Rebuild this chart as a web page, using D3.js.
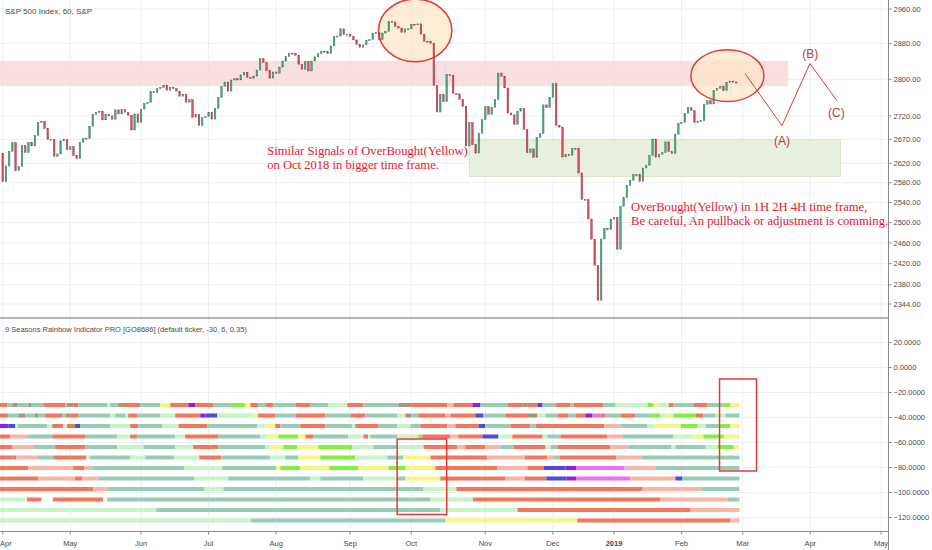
<!DOCTYPE html>
<html>
<head>
<meta charset="utf-8">
<script src="https://cdn.jsdelivr.net/npm/d3@7"></script>
<style>
body { margin: 0; background: #fff; }
svg { display: block; font-family: "Liberation Sans", Arial, sans-serif; }
</style>
</head>
<body>
<svg id="chart" width="932" height="550"></svg>
<script>
// S&P 500 daily closes, 29 Mar 2018 .. 27 Feb 2019 (one per trading day)
var closes = [
  2640.9,
  // Apr
  2581.9, 2614.5, 2644.7, 2662.8, 2604.5, 2613.2, 2656.9, 2642.2, 2664.0, 2656.3, 2677.8,
  2706.4, 2708.6, 2693.1, 2670.1, 2670.3, 2634.6, 2639.4, 2666.9, 2669.9, 2648.1,
  // May
  2654.8, 2635.7, 2629.7, 2663.4, 2672.6, 2671.9, 2697.8, 2723.1, 2727.7, 2730.1, 2711.5,
  2722.5, 2720.1, 2713.0, 2733.0, 2724.4, 2733.3, 2727.8, 2721.3, 2689.9, 2724.0, 2705.3,
  // Jun
  2734.6, 2746.9, 2748.8, 2772.4, 2770.4, 2779.0, 2782.0, 2786.9, 2775.6, 2782.5, 2779.7,
  2773.8, 2762.6, 2767.3, 2749.8, 2754.9, 2717.1, 2723.1, 2699.6, 2716.3, 2718.4,
  // Jul
  2726.7, 2713.2, 2736.6, 2759.8, 2784.2, 2793.8, 2774.0, 2798.3, 2801.3, 2798.4, 2809.6,
  2815.6, 2804.5, 2801.8, 2807.0, 2820.4, 2846.1, 2837.4, 2818.8, 2802.6, 2816.3,
  // Aug
  2813.4, 2827.2, 2840.4, 2850.4, 2858.5, 2857.7, 2853.6, 2833.3, 2821.9, 2840.0, 2818.4,
  2840.7, 2850.1, 2857.1, 2863.0, 2861.8, 2857.0, 2874.7, 2896.7, 2897.5, 2914.0, 2901.1, 2901.5,
  // Sep
  2896.7, 2888.6, 2878.1, 2871.7, 2877.1, 2887.9, 2888.9, 2904.2, 2905.0, 2888.8, 2904.3,
  2908.0, 2930.8, 2929.7, 2919.4, 2915.6, 2906.0, 2914.0, 2914.0,
  // Oct
  2924.6, 2923.4, 2925.5, 2901.6, 2885.6, 2884.4, 2880.3, 2785.7, 2728.4, 2767.1, 2750.8,
  2809.9, 2809.2, 2768.8, 2767.8, 2755.9, 2740.7, 2656.1, 2705.6, 2658.7, 2641.3, 2682.6, 2711.7,
  // Nov
  2740.4, 2723.1, 2738.3, 2755.5, 2813.9, 2806.8, 2781.0, 2726.2, 2722.2, 2701.6, 2730.2,
  2736.3, 2690.7, 2641.9, 2649.9, 2632.6, 2673.5, 2682.2, 2743.8, 2737.8, 2760.2,
  // Dec
  2790.4, 2700.1, 2696.0, 2633.1, 2637.7, 2636.8, 2651.1, 2650.5, 2600.0, 2545.9, 2546.2,
  2507.0, 2467.4, 2416.6, 2351.1, 2467.7, 2488.8, 2485.7, 2506.9,
  // Jan 2019
  2510.0, 2447.9, 2531.9, 2549.7, 2574.4, 2585.0, 2596.6, 2596.3, 2582.6, 2610.3, 2616.1,
  2636.0, 2670.7, 2632.9, 2638.7, 2642.3, 2664.8, 2643.9, 2640.0, 2681.1, 2704.1,
  // Feb 2019
  2706.5, 2724.9, 2737.7, 2731.6, 2706.1, 2707.9, 2709.8, 2744.7, 2753.0, 2745.7, 2775.6,
  2779.8, 2784.7, 2774.9, 2792.7, 2796.1, 2793.9, 2792.4
];

var holidays = ['2018-03-30', '2018-05-28', '2018-07-04', '2018-09-03', '2018-11-22',
  '2018-12-05', '2018-12-25', '2019-01-01', '2019-01-21', '2019-02-18'];

var monthLabels = ['Apr', 'May', 'Jun', 'Jul', 'Aug', 'Sep', 'Oct', 'Nov', 'Dec', '2019', 'Feb', 'Mar', 'Apr', 'May'];
var monthStarts = ['2018-04-02', '2018-05-01', '2018-06-01', '2018-07-02', '2018-08-01', '2018-09-04',
  '2018-10-01', '2018-11-01', '2018-12-03', '2019-01-02', '2019-02-01', '2019-03-01', '2019-04-01', '2019-05-01'];

var priceTicks = [2960, 2880, 2800, 2720, 2670, 2620, 2580, 2540, 2500, 2460, 2420, 2380, 2344];
var indTicks = [20, 0, -20, -40, -60, -80, -100, -120];

// rainbow indicator: one level per row, runs are "colour + end (trading day index)"
var rowLevels = [-30, -38.4, -46.8, -55.2, -63.6, -72, -80.4, -88.8, -97.2, -105.6, -114, -122.4];
var rainbowRows = [
  "R1.4 T3.2 D4.5 T8 D9 T12.6 R19.4 T20 D22 R23.5 T32.5 L33.4 T35.9 D38 R42.7 T49 Y52.1 R57.7 P59.8 R65.4 T70.7 G75.4 Y77 R79.4 T81.6 R84.1 T91 R95.6 T101.2 L107.1 R112.1 T123 D127 R138.2 S140.1 R146 P148.5 T156.9 R161.5 D163 R166.2 B167.8 T171.8 R176.5 T177.4 R186.7 T190.5 L200.4 G202.3 Y203.8 L207 R208.5 T214.7 R219.1 T224.1 G226.2 Y229",
  "R1.7 T5 D7 T10 D11 T13.2 R18.5 T19.7 D21 R23.5 T33.4 L35 T38.1 L39 R41.8 T49 L53.6 R61.4 P63 B66.7 L77.9 Y79.4 R84.7 T91 R100.3 T108.1 R112.7 T122.7 L125.2 D127 T129.2 R137.6 S139.2 R146.9 B149.4 T156.3 R163 D166.2 L168.7 T172.4 R175.9 T178 R181.1 P183.3 M185.8 R187.4 T192 R196.7 T201.4 G204.5 L206 Y207.6 L208.5 G215.4 R217.8 T221.6 L224.7 T229",
  "P1.7 B3.9 L4.8 T13.8 L15.4 R18.8 L20 R22.5 B24.1 T33.4 L39.6 R42.1 T49.6 L54.6 R63.6 T79.1 L81.6 Y84.7 R86.3 T92.5 R100.3 T108.7 L109.6 R116.8 T122.7 L126.7 T129.8 R138.2 S140.7 R147.9 B150 T157.8 R164 T165.6 R187 S192 T200.4 L202.9 Y210.7 G216 L218.5 T222.5 G226.2 Y229",
  "R2.3 S7.6 T15.4 R25.6 T35.6 L39.6 R41.8 T53.6 L56.7 R67 T80.1 L82.2 Y85.7 G91.9 Y94.1 R96.5 T107.4 L112.1 R113.6 L114.3 T122.7 L129.2 G130.4 R139.2 S141.6 R149.1 B154.1 L158.4 R167.8 L169.3 T173.4 R188 S192.6 T208.5 L214.7 Y217.8 G224.1 Y229",
  "R2.9 S9.5 T16.3 R25.6 T35.6 L43.7 T53.6 L59.2 R67 T81.6 L83.2 Y87.2 G91.6 Y98.1 G108.7 L115.2 T122.7 L130.8 R141.3 S143.8 R150 S154.7 T158.7 R168.7 L170.3 T172.4 R188.9 S194.5 T207.9 L209.1 T218.5 L222.2 G227.2 Y229",
  "R2 D3 R4.2 S10.7 T15.7 R26 L27.2 T39.6 L44.3 T53.3 L61.1 R67.9 T83.2 L87.8 T91.9 Y98.7 G109.6 L119.6 T124.5 Y133 R150.7 S162.2 R169.3 S171.2 T173.1 R190.8 S198.6 T229",
  "R7.9 S21.9 R25.3 S27.8 T56.4 L68.2 T85 Y86.3 G92.5 Y101.5 G110.5 Y119.9 G125.2 Y134.5 R153.8 S163.1 R168.1 B174.9 P178.3 M193.3 S202.9 T229",
  "R11 S22.5 R24.7 S29.7 T59.5 L70.1 T95.6 L98.7 T112.1 L122.7 T125.2 Y136 R156.3 S162.2 R169 B175.2 P178.3 M195.1 S209.1 B211.3 T229",
  "R28.1 S32.5 T62.6 L68.6 T130.8 L141 R198.9 S217.2 T229",
  "L7 _7.5 R12 _15.6 R31.2 _32.5 T133 L146.1 R204.5 S225.3 T229",
  "L47.7 T136 L160 R213.8 S229",
  "L77.2 T137.6 Y178.6 R226.2 S229"
];
var rainbowColors = {
  R: '#f4775c', S: '#f9b6a5', T: '#97cdb5', L: '#c6f6c6', Y: '#f8f67c',
  G: '#82f03e', B: '#4b4be0', P: '#8d1ee6', M: '#f06ef0', D: '#a99476'
};

// annotations (trading day index / price)
var pinkZone = { x0: -1, x1: 244.2, lo: 2785, hi: 2841 };
var greenZone = { x0: 145.1, x1: 260.4, lo: 2593, hi: 2669 };
var ellipses = [
  { x0: 116.8, x1: 139.6, hi: 2983, lo: 2839 },
  { x0: 213.9, x1: 236.6, hi: 2866, lo: 2751 }
];
var wavePath = [[230.7, 2813], [242.2, 2699], [250.9, 2835], [259.3, 2753]];
var waveLabels = [['(A)', 242.2, 2659], ['(B)', 251, 2848], ['(C)', 259.1, 2717]];
var notes = [
  { x: 82.2, p: 2637, lines: ['Similar Signals of OverBought(Yellow)', 'on Oct 2018 in bigger time frame.'] },
  { x: 195.3, p: 2522, lines: ['OverBought(Yellow) in 1H 2H 4H time frame,', 'Be careful, An pullback or adjustment is comming.'] }
];
var ratioBoxes = [
  { x0: 122.6, x1: 138, top: -57.2, bottom: -117.6 },
  { x0: 222.8, x1: 234.3, top: -9.2, bottom: -82.8 }
];

var W = 932, H = 550;
var plotRight = 888.5, mainBottom = 318, indBottom = 531.5;

var hol = new Set(holidays);
var startDay = new Date(Date.UTC(2018, 2, 29));
function tradingIndex(s) {
  var target = new Date(s + 'T00:00:00Z');
  var n = -1, d = new Date(startDay.getTime());
  while (d < target) {
    d.setUTCDate(d.getUTCDate() + 1);
    var wd = d.getUTCDay();
    if (wd !== 0 && wd !== 6 && !hol.has(d.toISOString().slice(0, 10))) n++;
  }
  return n;
}

var x = d3.scaleLinear().domain([0, 230]).range([2.7, 742.7]);
var yP = d3.scaleLog().domain([2344, 2960]).range([304, 9]);
var yI = d3.scaleLinear().domain([0, -120]).range([367.5, 517.5]);

var svg = d3.select('#chart');
var defs = svg.append('defs');
defs.append('clipPath').attr('id', 'clipMain').append('rect')
  .attr('x', 0).attr('y', 0).attr('width', plotRight).attr('height', mainBottom);
defs.append('clipPath').attr('id', 'clipInd').append('rect')
  .attr('x', 0).attr('y', mainBottom).attr('width', plotRight).attr('height', indBottom - mainBottom);

var monthX = monthStarts.map(function(s) { return x(tradingIndex(s)); });

// grid
var grid = svg.append('g').attr('stroke', '#eceff4').attr('stroke-width', 1);
grid.selectAll('.vg').data(monthX).enter().append('line')
  .attr('x1', function(d) { return d; }).attr('x2', function(d) { return d; })
  .attr('y1', 0).attr('y2', indBottom);
grid.selectAll('.hg').data(priceTicks).enter().append('line')
  .attr('x1', 0).attr('x2', plotRight)
  .attr('y1', function(d) { return yP(d); }).attr('y2', function(d) { return yP(d); });
grid.selectAll('.ig').data(indTicks).enter().append('line')
  .attr('x1', 0).attr('x2', plotRight)
  .attr('y1', function(d) { return yI(d); }).attr('y2', function(d) { return yI(d); });

// main pane
var main = svg.append('g').attr('clip-path', 'url(#clipMain)');
main.append('rect')
  .attr('x', x(pinkZone.x0)).attr('width', x(pinkZone.x1) - x(pinkZone.x0))
  .attr('y', yP(pinkZone.hi)).attr('height', yP(pinkZone.lo) - yP(pinkZone.hi))
  .attr('fill', '#f7d3d3').attr('fill-opacity', 0.7);
main.append('rect')
  .attr('x', x(greenZone.x0)).attr('width', x(greenZone.x1) - x(greenZone.x0))
  .attr('y', yP(greenZone.hi)).attr('height', yP(greenZone.lo) - yP(greenZone.hi))
  .attr('fill', '#e4efd9').attr('fill-opacity', 0.85)
  .attr('stroke', '#cfe0c0').attr('stroke-width', 0.8);

main.selectAll('.ell-fill').data(ellipses).enter().append('ellipse')
  .attr('cx', function(d) { return (x(d.x0) + x(d.x1)) / 2; })
  .attr('cy', function(d) { return (yP(d.hi) + yP(d.lo)) / 2; })
  .attr('rx', function(d) { return (x(d.x1) - x(d.x0)) / 2; })
  .attr('ry', function(d) { return (yP(d.lo) - yP(d.hi)) / 2; })
  .attr('fill', '#fce6c8').attr('fill-opacity', 0.75);

var candles = closes.slice(1).map(function(c, i) {
  return { i: i, open: closes[i], close: c };
});
main.selectAll('.candle').data(candles).enter().append('rect')
  .attr('x', function(d) { return x(d.i) - 0.8; })
  .attr('width', 1.6)
  .attr('y', function(d) { return yP(Math.max(d.open, d.close)); })
  .attr('height', function(d) { return Math.max(1, Math.abs(yP(d.open) - yP(d.close))); })
  .attr('fill', function(d) { return d.close >= d.open ? '#4daa80' : '#e04b5e'; })
  .attr('stroke', function(d) { return d.close >= d.open ? '#2f6f52' : '#8e2a36'; })
  .attr('stroke-width', 0.4);

main.selectAll('.ell').data(ellipses).enter().append('ellipse')
  .attr('cx', function(d) { return (x(d.x0) + x(d.x1)) / 2; })
  .attr('cy', function(d) { return (yP(d.hi) + yP(d.lo)) / 2; })
  .attr('rx', function(d) { return (x(d.x1) - x(d.x0)) / 2; })
  .attr('ry', function(d) { return (yP(d.lo) - yP(d.hi)) / 2; })
  .attr('fill', 'none').attr('stroke', '#e53935').attr('stroke-width', 1.5);

main.append('path')
  .attr('d', d3.line().x(function(d) { return x(d[0]); }).y(function(d) { return yP(d[1]); })(wavePath))
  .attr('fill', 'none').attr('stroke', '#e53935').attr('stroke-width', 1);

main.selectAll('.wl').data(waveLabels).enter().append('text')
  .attr('x', function(d) { return x(d[1]); }).attr('y', function(d) { return yP(d[2]); })
  .attr('text-anchor', 'middle').attr('font-size', 12).attr('fill', '#b8403a')
  .text(function(d) { return d[0]; });

notes.forEach(function(n) {
  var t = main.append('text')
    .attr('x', x(n.x)).attr('y', yP(n.p))
    .attr('font-family', '"Liberation Serif", "Times New Roman", serif')
    .attr('font-size', 12.6).attr('fill', '#e3202b');
  n.lines.forEach(function(l, k) {
    t.append('tspan').attr('x', x(n.x)).attr('dy', k === 0 ? 0 : 13.8).text(l);
  });
});

// indicator pane
var ind = svg.append('g').attr('clip-path', 'url(#clipInd)');
rainbowRows.forEach(function(row, r) {
  var prev = -1;
  var runs = row.split(' ').map(function(tok) {
    var run = { c: tok[0], a: prev, b: +tok.slice(1) };
    prev = run.b;
    return run;
  }).filter(function(d) { return d.c !== '_'; });
  ind.selectAll('.r' + r).data(runs).enter().append('rect')
    .attr('x', function(d) { return x(d.a); })
    .attr('width', function(d) { return x(d.b) - x(d.a); })
    .attr('y', yI(rowLevels[r]) - 2)
    .attr('height', 4)
    .attr('fill', function(d) { return rainbowColors[d.c]; });
});
ind.selectAll('.box').data(ratioBoxes).enter().append('rect')
  .attr('x', function(d) { return x(d.x0); })
  .attr('width', function(d) { return x(d.x1) - x(d.x0); })
  .attr('y', function(d) { return yI(d.top); })
  .attr('height', function(d) { return yI(d.bottom) - yI(d.top); })
  .attr('fill', 'none').attr('stroke', '#e53935').attr('stroke-width', 1.5);

// axes
var axisColor = '#8a8a8a', labelColor = '#4a4a4a';
svg.append('line').attr('x1', 0).attr('x2', plotRight).attr('y1', mainBottom).attr('y2', mainBottom)
  .attr('stroke', '#9a9a9a').attr('stroke-width', 1.5);
svg.append('line').attr('x1', 0).attr('x2', plotRight).attr('y1', indBottom).attr('y2', indBottom)
  .attr('stroke', axisColor).attr('stroke-width', 1);
svg.append('line').attr('x1', plotRight).attr('x2', plotRight).attr('y1', 0).attr('y2', H)
  .attr('stroke', axisColor).attr('stroke-width', 1);

var pAxis = svg.append('g');
pAxis.selectAll('line').data(priceTicks).enter().append('line')
  .attr('x1', plotRight).attr('x2', plotRight + 3)
  .attr('y1', function(d) { return yP(d); }).attr('y2', function(d) { return yP(d); })
  .attr('stroke', axisColor);
pAxis.selectAll('text').data(priceTicks).enter().append('text')
  .attr('x', plotRight + 5).attr('y', function(d) { return yP(d); }).attr('dy', '0.35em')
  .attr('font-size', 7.5).attr('fill', labelColor)
  .text(function(d) { return d3.format('.2f')(d); });

var iAxis = svg.append('g');
iAxis.selectAll('line').data(indTicks).enter().append('line')
  .attr('x1', plotRight).attr('x2', plotRight + 3)
  .attr('y1', function(d) { return yI(d); }).attr('y2', function(d) { return yI(d); })
  .attr('stroke', axisColor);
iAxis.selectAll('text').data(indTicks).enter().append('text')
  .attr('x', plotRight + 5).attr('y', function(d) { return yI(d); }).attr('dy', '0.35em')
  .attr('font-size', 7.5).attr('fill', labelColor)
  .text(function(d) { return d3.format('.4f')(d); });

var tAxis = svg.append('g');
tAxis.selectAll('line').data(monthX).enter().append('line')
  .attr('x1', function(d) { return d; }).attr('x2', function(d) { return d; })
  .attr('y1', indBottom).attr('y2', indBottom + 3)
  .attr('stroke', axisColor);
// the first label would run off the left edge, so it is left-aligned there
tAxis.selectAll('text').data(monthLabels).enter().append('text')
  .attr('x', function(d, i) { return i === 0 ? 0 : monthX[i]; }).attr('y', 546)
  .attr('text-anchor', function(d, i) { return i === 0 ? 'start' : 'middle'; })
  .attr('font-size', 7.5).attr('fill', labelColor)
  .attr('font-weight', function(d) { return d === '2019' ? 'bold' : 'normal'; })
  .text(function(d) { return d; });

// pane titles
svg.append('text').attr('x', 5).attr('y', 14).attr('font-size', 8).attr('fill', labelColor)
  .text('S&P 500 Index, 60, S&P');
svg.append('text').attr('x', 5).attr('y', 332).attr('font-size', 7.5).attr('fill', labelColor)
  .text('9 Seasons Rainbow Indicator PRO [GO8686] (default ticker, -30, 6, 0.35)');
</script>
</body>
</html>
